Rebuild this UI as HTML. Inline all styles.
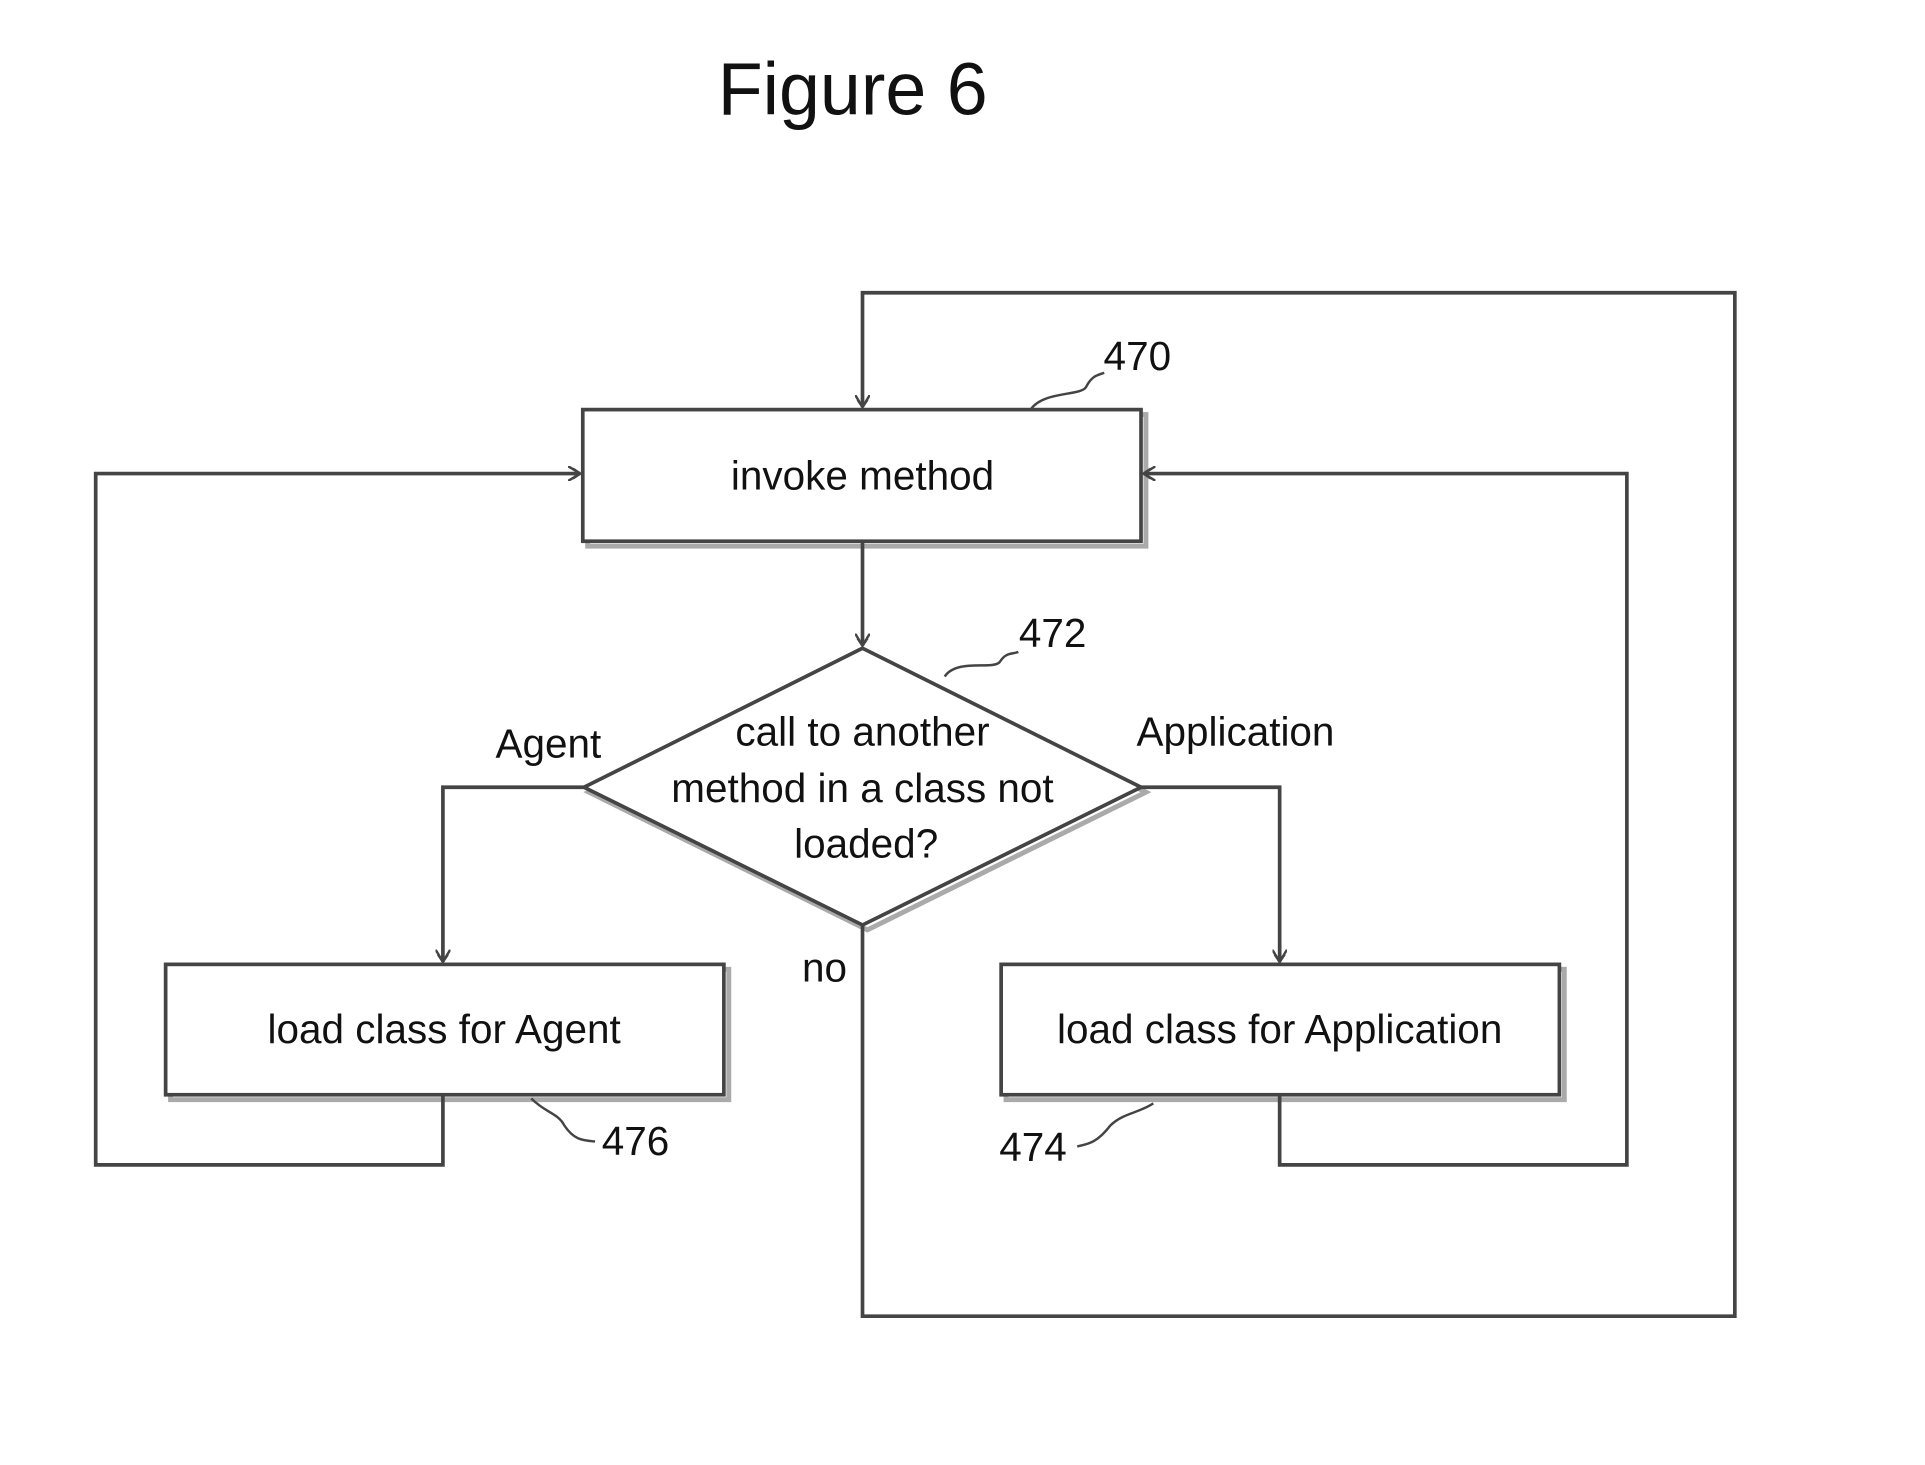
<!DOCTYPE html>
<html><head><style>html,body{margin:0;padding:0;background:#fff}svg{display:block}</style></head>
<body>
<svg width="1925" height="1465" viewBox="0 0 1569 1191" preserveAspectRatio="none" xmlns="http://www.w3.org/2000/svg" font-family="Liberation Sans, sans-serif">
<defs>
<marker id="a" markerWidth="12" markerHeight="12" refX="10" refY="6" orient="auto" markerUnits="userSpaceOnUse">
<path d="M0,0 L10,6 L0,12 M4,2 L10,6 L4,10" fill="none" stroke="#444" stroke-width="2"/>
</marker>
</defs>
<text x="695" y="93" font-size="60" text-anchor="middle" fill="#111">Figure 6</text>
<g fill="none" stroke="#aaa" stroke-width="4">
<rect x="479" y="337" width="455" height="107"/>
<rect x="139" y="788" width="455" height="106"/>
<rect x="820" y="788" width="455" height="106"/>
<polygon points="707,531 934,644 707,756 480,644"/>
</g>
<g fill="#fff" stroke="#444" stroke-width="3">
<rect x="475" y="333" width="455" height="107"/>
<rect x="135" y="784" width="455" height="106"/>
<rect x="816" y="784" width="455" height="106"/>
<polygon points="703,527 930,640 703,752 476,640"/>
</g>
<g fill="none" stroke="#444" stroke-width="3">
<path d="M703,440 V525" marker-end="url(#a)"/>
<path d="M476,640 H361 V782" marker-end="url(#a)"/>
<path d="M930,640 H1043 V782" marker-end="url(#a)"/>
<path d="M361,890 V947 H78 V385 H473" marker-end="url(#a)"/>
<path d="M1043,890 V947 H1326 V385 H932" marker-end="url(#a)"/>
<path d="M703,752 V1070 H1414 V238 H703 V331" marker-end="url(#a)"/>
<g stroke-width="2">
<path d="M840,333 C850,318 880,322 885,315 C890,305 895,305 900,303"/>
<path d="M770,550 C780,535 810,545 815,538 C820,530 825,532 830,530"/>
<path d="M433,893 C445,905 455,905 460,915 C468,927 475,927 485,928"/>
<path d="M940,897 C928,905 915,905 905,915 C895,928 888,930 878,932"/>
</g>
</g>
<g font-size="33" fill="#111" text-anchor="middle">
<text x="703" y="398">invoke method</text>
<text x="703" y="606">call to another</text>
<text x="703" y="652">method in a class not</text>
<text x="706" y="697">loaded?</text>
<text x="362" y="848">load class for Agent</text>
<text x="1043" y="848">load class for Application</text>
<text x="447" y="616">Agent</text>
<text x="1007" y="606">Application</text>
<text x="672" y="798">no</text>
<text x="927" y="301">470</text>
<text x="858" y="526">472</text>
<text x="518" y="939">476</text>
<text x="842" y="944">474</text>
</g>
</svg>
</body></html>
